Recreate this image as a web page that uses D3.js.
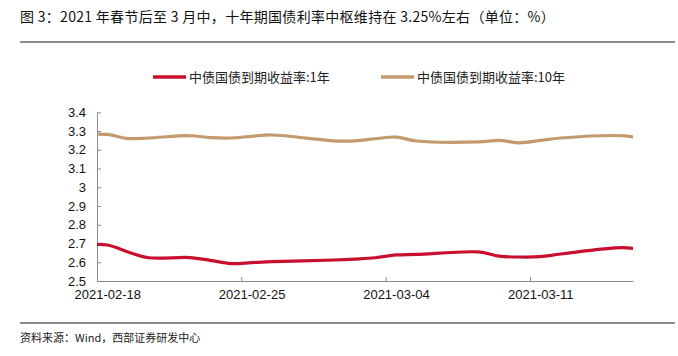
<!DOCTYPE html>
<html><head><meta charset="utf-8">
<script src="https://cdn.jsdelivr.net/npm/d3@7"></script>
<style>
html,body{margin:0;padding:0;background:#fff;}
svg{display:block;}
</style></head>
<body><svg id="c" width="678" height="356"></svg>
<script>
const titleText = "图 3：2021 年春节后至 3 月中，十年期国债利率中枢维持在 3.25%左右（单位：%）";
const sourceText = "资料来源：Wind，西部证券研发中心";
const seriesNames = ["中债国债到期收益率:1年", "中债国债到期收益率:10年"];
const dates = ["2021-02-17","2021-02-18","2021-02-19","2021-02-20","2021-02-22","2021-02-23","2021-02-24","2021-02-25","2021-02-26",
  "2021-03-01","2021-03-02","2021-03-03","2021-03-04","2021-03-05","2021-03-08","2021-03-09","2021-03-10","2021-03-11","2021-03-12",
  "2021-03-15","2021-03-16"];
const yield1y = [2.692,2.692,2.655,2.624,2.625,2.610,2.593,2.598,2.603,
  2.612,2.617,2.624,2.639,2.642,2.655,2.633,2.628,2.630,2.644,
  2.678,2.665];
const yield10y = [3.282,3.282,3.260,3.263,3.275,3.265,3.263,3.272,3.279,
  3.248,3.248,3.259,3.268,3.247,3.242,3.250,3.237,3.250,3.263,
  3.275,3.260];
const yTicks = [2.5,2.6,2.7,2.8,2.9,3,3.1,3.2,3.3,3.4];
const xTickLabels = ["2021-02-18","2021-02-25","2021-03-04","2021-03-11"];
const xDomain = ["2021-02-18","2021-03-16"];
const colors = ["#c8102e","#c29a6e"];

const svg = d3.select("#c");
const parse = d3.utcParse("%Y-%m-%d");
const halfDay = 12*3600*1000;

const L = 97, R = 633, T = 112.3, B = 281;
const x = d3.scaleUtc().domain(xDomain.map(parse)).range([L, R]);
const y = d3.scaleLinear().domain([2.5, 3.4]).range([B, T]);

// title
svg.append("text").attr("x", 20).attr("y", 22)
  .attr("font-family", "'Noto Sans CJK SC', sans-serif").attr("font-size", 14)
  .attr("letter-spacing", 0.3)
  .attr("fill", "#111").text(titleText);
svg.append("line").attr("x1", 20).attr("x2", 675).attr("y1", 42).attr("y2", 42)
  .attr("stroke", "#8c8c8c").attr("stroke-width", 2);
svg.append("line").attr("x1", 20).attr("x2", 675).attr("y1", 323).attr("y2", 323)
  .attr("stroke", "#8c8c8c").attr("stroke-width", 2);
svg.append("text").attr("x", 20).attr("y", 342)
  .attr("font-family", "'Noto Sans CJK SC', sans-serif").attr("font-size", 11)
  .attr("fill", "#222").text(sourceText);

// legend
const legX = [153, 381];
seriesNames.forEach((n, i) => {
  const g = svg.append("g").attr("transform", `translate(${legX[i]},77)`);
  g.append("line").attr("x1", 0).attr("x2", 33).attr("y1", 0).attr("y2", 0)
    .attr("stroke", colors[i]).attr("stroke-width", 3.5);
  g.append("text").attr("x", 36).attr("y", 0).attr("dy", "0.35em")
    .attr("font-family", "'Noto Sans CJK SC', sans-serif").attr("font-size", 13)
    .attr("fill", "#222").text(n);
});

// y axis
const yAxis = svg.append("g").attr("transform", `translate(${L},0)`)
  .call(d3.axisLeft(y).tickValues(yTicks).tickFormat(d => String(d)).tickSizeInner(-4).tickSizeOuter(0).tickPadding(11));
yAxis.select(".domain").attr("stroke", "#8c8c8c");
yAxis.selectAll(".tick line").attr("stroke", "#8c8c8c");
yAxis.selectAll("text").attr("font-family", "'Liberation Sans', Arial, sans-serif").attr("font-size", 13).attr("fill", "#111");

// x axis
const tickDates = xTickLabels.map(parse);
const xAxis = svg.append("g").attr("transform", `translate(0,${B})`)
  .call(d3.axisBottom(x).tickValues(tickDates).tickFormat(d3.utcFormat("%Y-%m-%d")).tickSizeInner(-4).tickSizeOuter(0).tickPadding(9));
xAxis.select(".domain").attr("stroke", "#8c8c8c");
xAxis.selectAll(".tick line").attr("stroke", "#8c8c8c");
const halfPx = x(new Date(tickDates[0].getTime() + halfDay)) - x(tickDates[0]);
xAxis.selectAll("text").attr("x", halfPx)
  .attr("font-family", "'Liberation Sans', Arial, sans-serif").attr("font-size", 13).attr("fill", "#111");

// clip
svg.append("clipPath").attr("id", "plotclip").append("rect")
  .attr("x", L).attr("y", T - 20).attr("width", R - L).attr("height", B - T + 20);

const pts = dates.map(parse);
const line = d3.line()
  .x((d, i) => x(new Date(pts[i].getTime() + halfDay)))
  .y(d => y(d))
  .curve(d3.curveCatmullRom.alpha(0.5));
[yield1y, yield10y].forEach((s, i) => {
  svg.append("path").attr("clip-path", "url(#plotclip)")
    .attr("d", line(s)).attr("fill", "none")
    .attr("stroke", colors[i]).attr("stroke-width", 3.2)
    .attr("stroke-linejoin", "round");
});
</script></body></html>
